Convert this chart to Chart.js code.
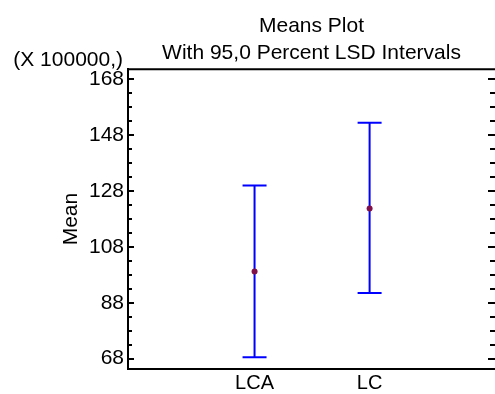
<!DOCTYPE html>
<html>
<head>
<meta charset="utf-8">
<script src="https://cdn.jsdelivr.net/npm/chart.js@4"></script>
<style>
  body { margin: 0; background: #fff; }
  canvas { display: block; }
</style>
</head>
<body>
<canvas id="meansChart" width="495" height="394"></canvas>
<script>
// data (units of 100000)
const categories = ['LCA', 'LC'];
const catPos = [1, 2];
const means = [99.2, 121.7];
const lower = [68.5, 91.5];
const upper = [130.0, 152.4];
const yTickValues = [68, 88, 108, 128, 148, 168];
const minorStep = 5;

const FONT = "Arial, 'Liberation Sans', Helvetica, sans-serif";
Chart.defaults.font.family = FONT;
Chart.defaults.color = '#000';

// top border, inward ticks on both sides and the scale factor note
const framePlugin = {
  id: 'frame',
  afterDraw(chart) {
    const { ctx, chartArea: a, scales: { y } } = chart;
    ctx.save();
    ctx.strokeStyle = '#000';
    ctx.lineWidth = 2;
    ctx.beginPath();
    ctx.moveTo(a.left - 1, a.top);
    ctx.lineTo(a.right, a.top);
    for (let v = yTickValues[0]; v <= y.max; v += minorStep) {
      const py = Math.round(y.getPixelForValue(v));
      const len = yTickValues.includes(v) ? 6 : 4;
      ctx.moveTo(a.left, py);
      ctx.lineTo(a.left + len, py);
      ctx.moveTo(a.right - len - 1, py);
      ctx.lineTo(a.right, py);
    }
    ctx.stroke();

    ctx.fillStyle = '#000';
    ctx.font = '21px ' + FONT;
    ctx.textAlign = 'right';
    ctx.textBaseline = 'alphabetic';
    ctx.fillText('(X 100000,)', a.left - 5, a.top - 3);
    ctx.restore();
  }
};

const datasets = [{
  label: 'Mean',
  data: means.map((m, i) => ({ x: catPos[i], y: m })),
  pointRadius: 3,
  pointBackgroundColor: '#80104a',
  pointBorderWidth: 0,
  showLine: false
}];

categories.forEach((c, i) => {
  datasets.push({
    label: c,
    data: [{ x: catPos[i], y: lower[i] }, { x: catPos[i], y: upper[i] }],
    showLine: true,
    borderColor: '#0000ff',
    borderWidth: 2,
    pointStyle: 'line',
    pointRadius: 12,
    pointBorderColor: '#0000ff',
    pointBorderWidth: 2
  });
});

const ctx = document.getElementById('meansChart').getContext('2d');

new Chart(ctx, {
  type: 'scatter',
  data: { datasets },
  plugins: [framePlugin],
  options: {
    responsive: false,
    animation: false,
    layout: { autoPadding: false, padding: 0 },
    plugins: {
      legend: { display: false },
      tooltip: { enabled: false },
      title: {
        display: true,
        text: ['Means Plot', 'With 95,0 Percent LSD Intervals'],
        fullSize: false,
        color: '#000',
        font: { size: 21, weight: 'normal', lineHeight: 1.29 },
        padding: { top: 12.5, bottom: 2.5 }
      }
    },
    scales: {
      x: {
        type: 'linear',
        position: 'bottom',
        min: -0.1,
        max: 3.09,
        grid: { display: true, drawOnChartArea: false, drawTicks: false },
        border: { display: true, color: '#000', width: 2 },
        afterBuildTicks: (scale) => { scale.ticks = catPos.map(v => ({ value: v })); },
        afterFit: (scale) => { scale.height = 25; },
        ticks: {
          autoSkip: false,
          maxRotation: 0,
          padding: 2,
          color: '#000',
          font: { size: 20 },
          callback: (v) => {
            const i = catPos.indexOf(v);
            return i >= 0 ? categories[i] : '';
          }
        }
      },
      y: {
        type: 'linear',
        position: 'left',
        min: 64.3,
        max: 171.6,
        grid: { display: true, drawOnChartArea: false, drawTicks: false },
        border: { display: true, color: '#000', width: 2 },
        afterBuildTicks: (scale) => { scale.ticks = yTickValues.map(v => ({ value: v })); },
        afterFit: (scale) => { scale.width = 128; },
        title: {
          display: true,
          text: 'Mean',
          color: '#000',
          font: { size: 21 },
          padding: { top: 59, bottom: 0 }
        },
        ticks: {
          padding: 4,
          color: '#000',
          font: { size: 21 }
        }
      }
    }
  }
});
</script>
</body>
</html>
